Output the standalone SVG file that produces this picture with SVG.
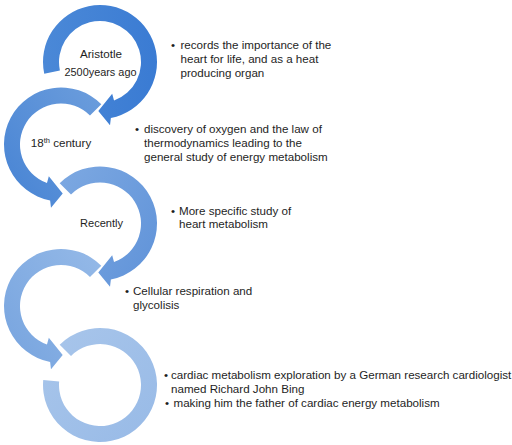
<svg xmlns="http://www.w3.org/2000/svg" width="512" height="445" viewBox="0 0 512 445">
<style>
text{font-family:"Liberation Sans",Arial,sans-serif;font-size:11.6px;fill:#1e1e1e}
.lbl{text-anchor:middle}
.arc{stroke:none}
</style>
<defs>
<linearGradient id="g1" gradientUnits="userSpaceOnUse" x1="45" y1="70" x2="157" y2="80"><stop offset="0" stop-color="#4a88d7"/><stop offset="1" stop-color="#3a7bd3"/></linearGradient>
<linearGradient id="g2" gradientUnits="userSpaceOnUse" x1="100" y1="100" x2="5" y2="170"><stop offset="0" stop-color="#6a9cdc"/><stop offset="1" stop-color="#4c87d5"/></linearGradient>
<linearGradient id="g3" gradientUnits="userSpaceOnUse" x1="60" y1="185" x2="157" y2="240"><stop offset="0" stop-color="#7ba7e1"/><stop offset="1" stop-color="#6496da"/></linearGradient>
<linearGradient id="g4" gradientUnits="userSpaceOnUse" x1="100" y1="262" x2="5" y2="330"><stop offset="0" stop-color="#93b8e7"/><stop offset="1" stop-color="#7ba7e0"/></linearGradient>
<linearGradient id="g5" gradientUnits="userSpaceOnUse" x1="60" y1="345" x2="150" y2="430"><stop offset="0" stop-color="#a6c4ea"/><stop offset="1" stop-color="#99bbe7"/></linearGradient>
</defs>
<g id="connectors">
<path class="arc" fill="url(#g1)" d="M44.25,73.85 A57,57 0 1 1 110.88,117.95 L110.01,125.21 L98.29,110.97 L112.19,93.74 L114.02,100.53 A41,41 0 1 0 59.90,70.52 Z"/>
<path class="arc" fill="url(#g2)" d="M101.31,104.19 A57,57 0 1 0 50.12,200.45 L50.99,207.71 L62.71,193.47 L48.81,176.24 L46.98,183.03 A41,41 0 1 1 89.99,115.51 Z"/>
<path class="arc" fill="url(#g3)" d="M59.69,183.19 A57,57 0 1 1 110.88,279.45 L110.01,286.71 L98.29,272.47 L112.19,255.24 L114.02,262.03 A41,41 0 1 0 71.01,194.51 Z"/>
<path class="arc" fill="url(#g4)" d="M101.31,265.69 A57,57 0 1 0 50.12,361.95 L50.99,369.21 L62.71,354.97 L48.81,337.74 L46.98,344.53 A41,41 0 1 1 89.99,277.01 Z"/>
<path class="arc" fill="url(#g5)" d="M59.69,344.69 A57,57 0 1 1 43.22,380.03 L59.16,381.43 A41,41 0 1 0 71.01,356.01 Z"/>
</g>
<g id="node-1">
<text class="lbl" x="101" y="57.5" textLength="42" lengthAdjust="spacingAndGlyphs">Aristotle</text>
<text class="lbl" x="100.5" y="76" textLength="72" lengthAdjust="spacingAndGlyphs">2500years ago</text>
<text x="171" y="49">•</text>
<text x="180.5" y="49">records the importance of the</text>
<text x="180.5" y="63">heart for life, and as a heat</text>
<text x="180.5" y="77">producing organ</text>
</g>
<g id="node-2">
<text class="lbl" x="61" y="147">18<tspan font-size="7.5px" dy="-4.5">th</tspan><tspan dy="4.5"> century</tspan></text>
<text x="135" y="132.5">•</text>
<text x="144" y="132.5">discovery of oxygen and the law of</text>
<text x="144" y="146.5">thermodynamics leading to the</text>
<text x="144" y="160.5">general study of energy metabolism</text>
</g>
<g id="node-3">
<text class="lbl" x="101.5" y="227" textLength="43" lengthAdjust="spacingAndGlyphs">Recently</text>
<text x="171" y="214.5">•</text>
<text x="179" y="214.5">More specific study of</text>
<text x="179" y="228">heart metabolism</text>
</g>
<g id="node-4">
<text x="125" y="295">•</text>
<text x="133" y="295">Cellular respiration and</text>
<text x="133" y="308.5">glycolisis</text>
</g>
<g id="node-5">
<text x="164" y="379">•</text>
<text x="171" y="379">cardiac metabolism exploration by a German research cardiologist</text>
<text x="171" y="392.5">named Richard John Bing</text>
<text x="165" y="407">•</text>
<text x="173.5" y="407">making him the father of cardiac energy metabolism</text>
</g>
</svg>
